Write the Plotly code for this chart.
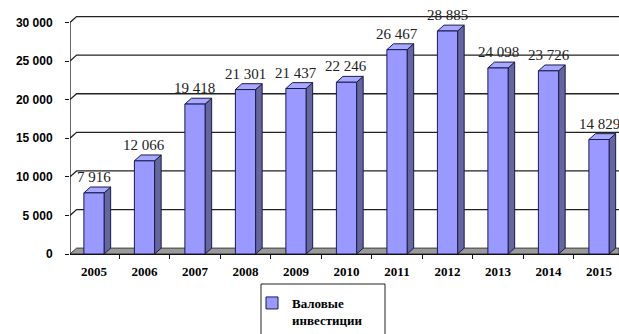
import plotly.graph_objects as go

years = ["2005", "2006", "2007", "2008", "2009", "2010", "2011", "2012", "2013", "2014", "2015"]
values = [7916, 12066, 19418, 21301, 21437, 22246, 26467, 28885, 24098, 23726, 14829]
labels = ["7 916", "12 066", "19 418", "21 301", "21 437", "22 246", "26 467", "28 885", "24 098", "23 726", "14 829"]
y_ticks = [0, 5000, 10000, 15000, 20000, 25000, 30000]
y_ticktext = ["0", "5 000", "10 000", "15 000", "20 000", "25 000", "30 000"]
series_name = "Валовые<br>инвестиции"

# style constants (3D depth look)
FRONT = "#9999FF"
TOP = "#A8A8FF"
SIDE = "#66669E"
EDGE = "#1a1a4d"
SERIF = "Liberation Serif, Times New Roman, serif"
BAR_W = 0.4
DX = 0.13      # depth in category units
DY = 760       # depth in value units
X0, X1 = -0.475, 10.396
YMAX = 31865

xs = list(range(len(years)))

fig = go.Figure()
fig.add_trace(go.Bar(
    x=xs, y=values, width=BAR_W, name=series_name,
    marker=dict(color=FRONT, line=dict(color=EDGE, width=1)),
    hoverinfo="skip",
))

shapes = []
# back-wall gridlines and floor
for v in y_ticks:
    if v == 0:
        shapes.append(dict(type="path", xref="x", yref="y", layer="below",
                           path=f"M {X0},0 L {X1},0 L {X1},{DY} L {X0+DX},{DY} Z",
                           fillcolor="#9a9a9a", line=dict(color="#333333", width=1)))
    else:
        shapes.append(dict(type="path", xref="x", yref="y", layer="below",
                           path=f"M {X0},{v} L {X0+DX},{v+DY} L {X1},{v+DY}",
                           line=dict(color="#222222", width=1.3)))
# side and top faces of bars
for x, v in zip(xs, values):
    r = x + BAR_W / 2
    l = x - BAR_W / 2
    shapes.append(dict(type="path", xref="x", yref="y", layer="below",
                       path=f"M {r},0 L {r},{v} L {r+DX},{v+DY} L {r+DX},{DY} Z",
                       fillcolor=SIDE, line=dict(color=EDGE, width=1)))
    shapes.append(dict(type="path", xref="x", yref="y", layer="below",
                       path=f"M {l},{v} L {r},{v} L {r+DX},{v+DY} L {l+DX},{v+DY} Z",
                       fillcolor=TOP, line=dict(color=EDGE, width=1)))
# y axis line
shapes.append(dict(type="line", xref="x", yref="y", x0=X0, x1=X0, y0=0, y1=y_ticks[-1],
                   line=dict(color="#111111", width=1.3)))
# legend box
shapes.append(dict(type="rect", xref="paper", yref="paper",
                   x0=(261 - 70) / 549, x1=(385 - 70) / 549,
                   y0=-0.4, y1=-(284 - 254) / 246,
                   line=dict(color="#222222", width=1), fillcolor="white"))

annotations = []
for x, v, t in zip(xs, values, labels):
    annotations.append(dict(x=x, y=v, text=t, showarrow=False, xref="x", yref="y",
                            yanchor="middle", yshift=16,
                            font=dict(family=SERIF, size=15, color="#222222")))

fig.update_layout(
    width=619, height=334,
    margin=dict(l=70, r=0, t=8, b=80, autoexpand=False),
    paper_bgcolor="white", plot_bgcolor="white",
    shapes=shapes, annotations=annotations,
    showlegend=True,
    legend=dict(x=(252 - 70) / 549, y=-(288 - 254) / 246, xanchor="left", yanchor="top",
                bgcolor="rgba(0,0,0,0)", borderwidth=0, valign="top",
                itemwidth=30,
                font=dict(family=SERIF, size=13, color="black", weight="bold")),
    xaxis=dict(range=[X0, X1], tickvals=xs, ticktext=years, ticks="", showgrid=False,
               showline=True, linecolor="#111111", linewidth=1.3, zeroline=False,
               automargin=False, ticklabelstandoff=5,
               tickfont=dict(family=SERIF, size=13, color="black", weight="bold"),
               minor=dict(tick0=-0.5, dtick=1, ticks="outside", ticklen=4, tickcolor="#111111", showgrid=False)),
    yaxis=dict(range=[0, YMAX], tickvals=y_ticks, ticktext=y_ticktext, ticks="outside",
               ticklen=4, tickcolor="#111111", showgrid=False, zeroline=False, showline=False,
               automargin=False, ticklabelstandoff=10,
               tickfont=dict(family="Liberation Sans, Arial, sans-serif", size=12, color="black", weight="bold")),
)

fig.write_html("out.html", config={"displayModeBar": False},
               post_script="document.body.style.margin='0';document.body.style.overflow='hidden';")
